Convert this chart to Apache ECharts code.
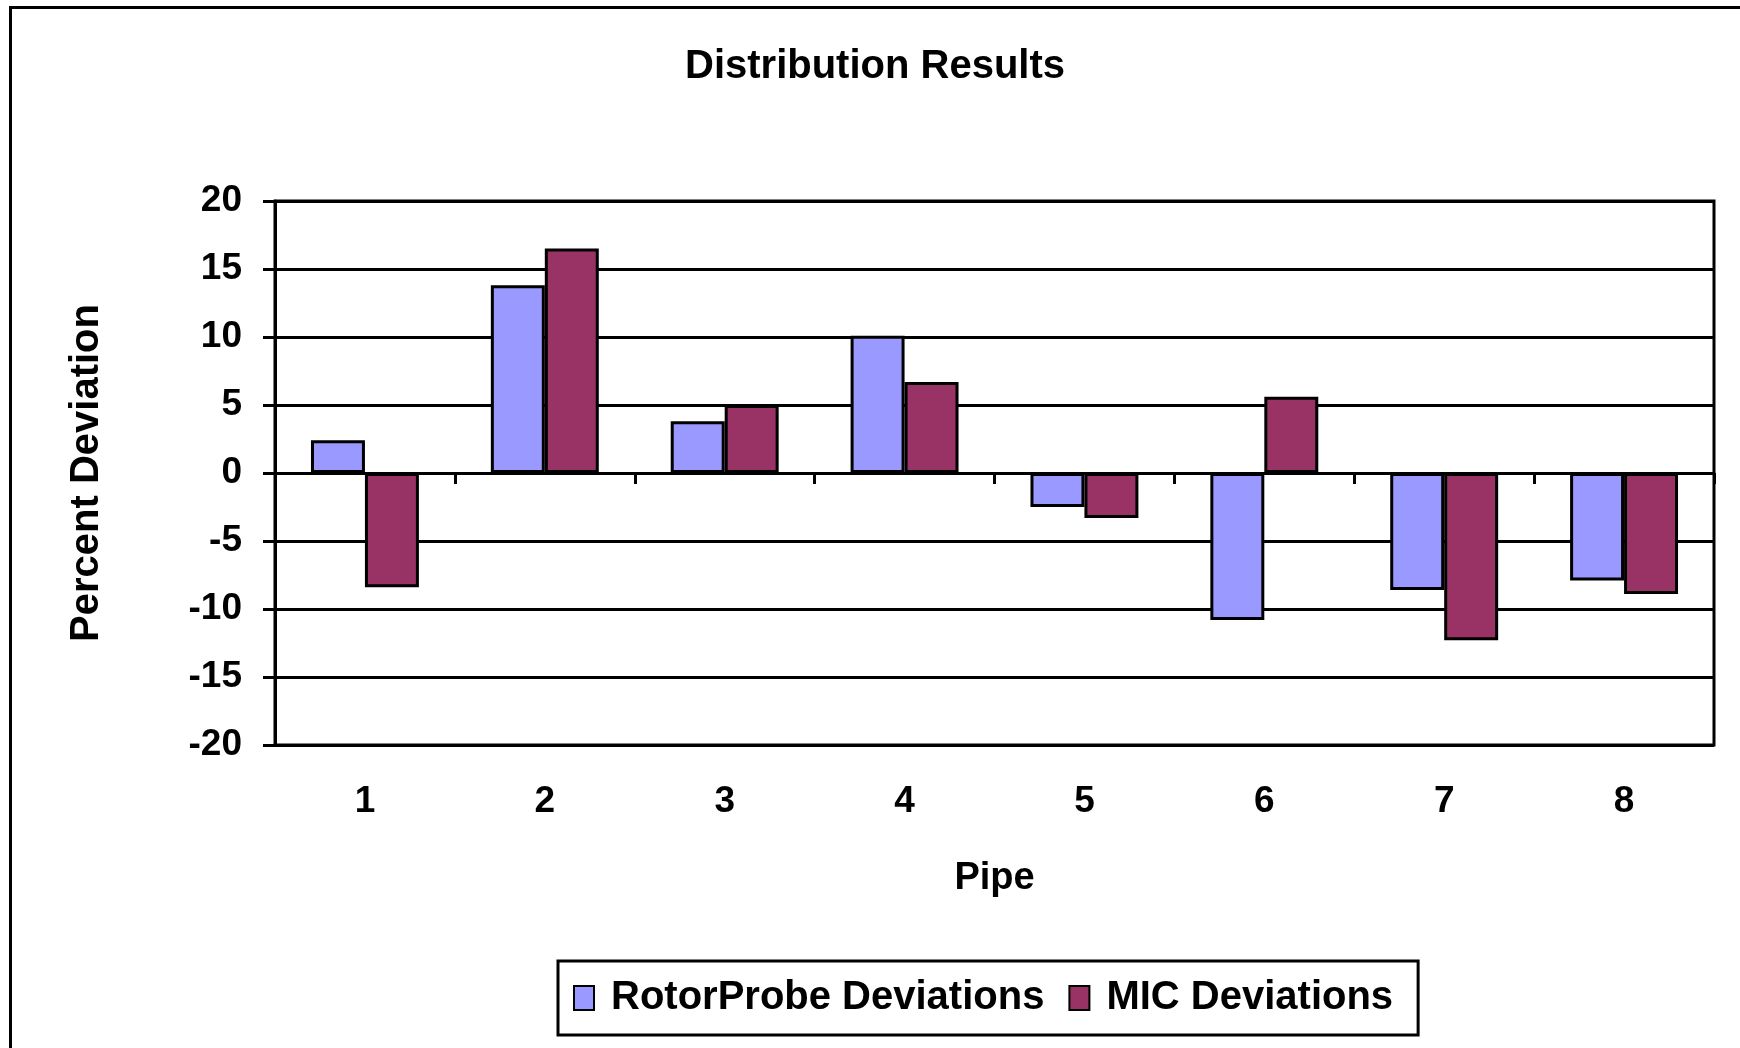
<!DOCTYPE html>
<html>
<head>
<meta charset="utf-8">
<title>Distribution Results</title>
<script src="https://cdn.jsdelivr.net/npm/echarts@6/dist/echarts.min.js"></script>
<style>
  html, body { margin: 0; padding: 0; background: #fff; }
  #chart { width: 1740px; height: 1048px; }
</style>
</head>
<body>
<div id="chart"></div>
<script>
// Pipe numbers along the category axis
const pipes = ['1', '2', '3', '4', '5', '6', '7', '8'];

// Percent deviation per pipe
const rotorProbeDeviations = [2.4, 13.8, 3.8, 10.1, -2.5, -10.8, -8.6, -7.9];
const micDeviations = [-8.4, 16.5, 5.0, 6.7, -3.3, 5.6, -12.3, -8.9];

// Value axis range
const yMin = -20;
const yMax = 20;
const yStep = 5;

const FONT = "'Liberation Sans', Arial, sans-serif";

const chart = echarts.init(document.getElementById('chart'), null, { renderer: 'canvas' });

chart.setOption({
  backgroundColor: '#ffffff',
  animation: false,
  title: {
    text: 'Distribution Results',
    left: 680,
    top: 42,
    textStyle: { fontFamily: FONT, fontWeight: 'bold', fontSize: 40, color: '#000' }
  },
  // chart-area frame
  graphic: [{
    type: 'rect',
    left: 8,
    top: 5,
    shape: { width: 1800, height: 1100 },
    style: { fill: 'none', stroke: '#000', lineWidth: 3 },
    silent: true
  }],
  legend: {
    left: 558,
    top: 961,
    padding: [17, 25, 17, 15],
    borderColor: '#000',
    borderWidth: 3,
    itemWidth: 20,
    itemHeight: 24,
    itemGap: 24,
    icon: 'rect',
    textStyle: { fontFamily: FONT, fontWeight: 'bold', fontSize: 40, color: '#000', padding: [0, 0, 0, 12] },
    data: ['RotorProbe Deviations', 'MIC Deviations']
  },
  grid: {
    left: 275,
    right: 26,
    top: 201,
    bottom: 303,
    show: true,
    borderColor: '#000',
    borderWidth: 3,
    containLabel: false
  },
  xAxis: [{
    // zero line with category boundary ticks
    type: 'category',
    data: pipes,
    axisLine: { onZero: true, lineStyle: { color: '#000', width: 3 } },
    axisTick: { show: true, inside: false, length: 11, lineStyle: { color: '#000', width: 3 } },
    axisLabel: { show: false },
    splitLine: { show: false }
  }, {
    // labels along the bottom of the plot
    type: 'category',
    data: pipes,
    position: 'bottom',
    axisLine: { onZero: false, show: false },
    axisTick: { show: false },
    axisLabel: { show: true, margin: 38, fontFamily: FONT, fontWeight: 'bold', fontSize: 37, color: '#000' },
    name: 'Pipe',
    nameLocation: 'middle',
    nameGap: 115,
    nameTextStyle: { fontFamily: FONT, fontWeight: 'bold', fontSize: 38, color: '#000' }
  }],
  yAxis: {
    type: 'value',
    min: yMin,
    max: yMax,
    interval: yStep,
    axisLine: { show: true, lineStyle: { color: '#000', width: 3 } },
    axisTick: { show: true, inside: false, length: 12, lineStyle: { color: '#000', width: 3 } },
    axisLabel: { margin: 33, fontFamily: FONT, fontWeight: 'bold', fontSize: 37, color: '#000' },
    splitLine: { show: true, lineStyle: { color: '#000', width: 3 } },
    name: 'Percent Deviation',
    nameLocation: 'middle',
    nameGap: 168,
    nameTextStyle: { fontFamily: FONT, fontWeight: 'bold', fontSize: 40, color: '#000' }
  },
  series: [{
    name: 'RotorProbe Deviations',
    type: 'bar',
    xAxisIndex: 0,
    data: rotorProbeDeviations,
    barGap: '0%',
    barCategoryGap: '40%',
    itemStyle: { color: '#9999FF', borderColor: '#000', borderWidth: 3 }
  }, {
    name: 'MIC Deviations',
    type: 'bar',
    xAxisIndex: 0,
    data: micDeviations,
    barGap: '0%',
    barCategoryGap: '40%',
    itemStyle: { color: '#993366', borderColor: '#000', borderWidth: 3 }
  }]
});
</script>
</body>
</html>
